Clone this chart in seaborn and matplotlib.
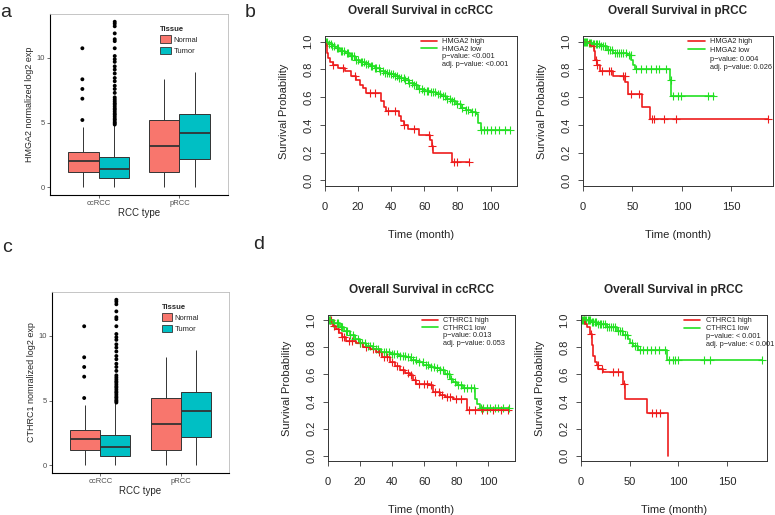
import numpy as np
import pandas as pd
import matplotlib
matplotlib.use('Agg')
import matplotlib.pyplot as plt
from matplotlib.lines import Line2D
from matplotlib.patches import Patch
import seaborn as sns

# ---- box plot data (whisker low, Q1, median, Q3, whisker high) ----
rcc_types = ['ccRCC', 'pRCC']
tissues = ['Normal', 'Tumor']
cc_normal = [0.0, 1.16, 2.04, 2.70, 4.67]
cc_tumor = [0.0, 0.72, 1.42, 2.35, 4.80]
p_normal = [0.0, 1.16, 3.20, 5.20, 8.37]
p_tumor = [0.0, 2.20, 4.16, 5.68, 8.94]
cc_normal_out = [5.2, 6.85, 7.6, 8.35, 10.75]
cc_tumor_out = [4.85, 4.95, 5.05, 5.2, 5.3, 5.45, 5.6, 5.7, 5.85, 6.0, 6.1, 6.25,
                6.4, 6.5, 6.65, 6.8, 6.95, 7.3, 7.6, 7.85, 8.2, 8.45, 8.8, 9.1,
                9.35, 9.7, 9.9, 10.15, 10.75, 11.3, 11.45, 11.9, 12.45, 12.65, 12.8]

# ---- survival curves: step times / survival, censor times ----
hm_cc_hi_t = [0, 1, 2, 3, 5, 8, 12, 16, 19, 21, 23, 25, 34, 35.5, 37, 44.5, 46, 47.5, 50,
              56.5, 63.5, 64.5, 65.5, 76.5, 87]
hm_cc_hi_s = [1.0, 0.92, 0.88, 0.85, 0.83, 0.81, 0.79, 0.755, 0.72, 0.69, 0.665, 0.63, 0.57,
              0.53, 0.50, 0.465, 0.43, 0.40, 0.37, 0.33, 0.29, 0.245, 0.20, 0.133, 0.133]
hm_cc_hi_c = [5, 11, 18, 27, 30, 38, 42, 48, 54, 63, 64.5, 78, 80, 87]
hm_cc_lo_t = [0, 2, 4, 6, 9, 12, 15, 18, 21, 24, 27, 30, 33, 36, 39, 42, 45, 48, 51, 54, 56,
              60, 64, 67, 70, 73, 76, 79, 82, 85, 88, 91, 92.5, 94, 112]
hm_cc_lo_s = [1.0, 0.985, 0.97, 0.955, 0.935, 0.915, 0.895, 0.87, 0.855, 0.84, 0.825, 0.81,
              0.79, 0.775, 0.765, 0.75, 0.735, 0.72, 0.705, 0.685, 0.66, 0.645, 0.64, 0.625,
              0.605, 0.59, 0.57, 0.55, 0.525, 0.505, 0.49, 0.48, 0.41, 0.365, 0.365]
hm_cc_lo_c = [0.5, 1.5, 2.5, 3.5, 4.5, 5.5, 7, 8, 9.5, 10.5, 11.5, 13, 14, 15.5, 16.5, 17.5,
              19, 20, 21.5, 22.5, 23.5, 25, 26, 27.5, 28.5, 30, 31, 32.5, 33.5, 35, 36, 37.5,
              38.5, 40, 41, 42.5, 43.5, 45, 46, 47.5, 48.5, 50, 51, 52.5, 54, 55, 57, 58.5,
              60, 61.5, 62.5, 64, 65.5, 66.5, 68, 69.5, 71, 72.5, 74, 75.5, 77, 78, 80, 81.5,
              83, 85, 86.5, 89, 90.5, 94.5, 96, 98, 100, 103, 105, 109, 112]

hm_p_hi_t = [0, 7.4, 11.4, 12.3, 14, 16.7, 30.8, 42.6, 45, 59.3, 67.6, 186.5]
hm_p_hi_s = [1.0, 0.965, 0.93, 0.87, 0.83, 0.79, 0.75, 0.71, 0.62, 0.53, 0.44, 0.44]
hm_p_hi_c = [11, 13, 14.5, 19, 26, 28, 40, 42, 48, 57, 70, 72, 82, 94, 186.5]
hm_p_lo_t = [0, 5, 10, 17, 24, 30.8, 44, 49, 50.8, 52.4, 87.6, 89.3, 132.8]
hm_p_lo_s = [1.0, 0.99, 0.98, 0.97, 0.94, 0.92, 0.90, 0.87, 0.83, 0.80, 0.72, 0.61, 0.61]
hm_p_lo_c = [1, 2, 3, 4.5, 6, 7, 8.5, 10, 11.5, 13, 14, 16, 18, 20, 22, 25, 27, 29, 32, 34,
             36, 38, 40, 43, 46, 48, 54, 59, 64, 69, 74, 77, 84, 88.5, 91, 96, 99, 126, 131]

ct_cc_hi_t = [0, 3, 5, 7, 8.5, 11.5, 17.7, 21.9, 26, 30, 34, 38.5, 42, 44.8, 48, 51, 53, 55.2,
              63.5, 65.6, 69.8, 73, 78, 86.7, 112.5]
ct_cc_hi_s = [1.0, 0.96, 0.94, 0.91, 0.88, 0.845, 0.83, 0.80, 0.785, 0.765, 0.73, 0.69, 0.66,
              0.63, 0.61, 0.595, 0.56, 0.53, 0.52, 0.47, 0.445, 0.43, 0.415, 0.335, 0.335]
ct_cc_hi_c = [1, 2, 4, 6, 9, 10, 13, 15, 20, 24, 28, 32, 35, 37, 40, 43, 47, 50, 52, 54, 57,
              60, 62, 64, 67, 69, 71, 74, 76, 80, 83, 88, 92, 96, 99, 103, 108, 112.5]
ct_cc_lo_t = [0, 3, 7.3, 10, 13.5, 17, 19.8, 24, 28.1, 33, 38.5, 44, 48.9, 52, 55.2, 59.3,
              63.5, 67, 69.8, 73, 76, 78, 80.2, 84.4, 91.7, 92.7, 94.8, 113]
ct_cc_lo_s = [1.0, 0.98, 0.95, 0.92, 0.89, 0.86, 0.835, 0.81, 0.785, 0.765, 0.753, 0.74,
              0.728, 0.71, 0.69, 0.667, 0.655, 0.645, 0.63, 0.60, 0.568, 0.545, 0.523, 0.50,
              0.42, 0.38, 0.35, 0.35]
ct_cc_lo_c = [0.5, 1.5, 3, 4, 5.5, 6.5, 8, 9, 11, 12, 14, 15.5, 17, 18.5, 20, 21.5, 23, 25,
              26.5, 28, 30, 31.5, 33, 35, 36.5, 38, 40, 41.5, 43, 45, 46.5, 48, 50, 51.5, 53,
              55, 57, 59, 61, 62.5, 64, 66, 68, 70, 72, 74, 75.5, 77, 79, 81, 83, 85, 87, 89,
              91, 95.5, 97, 99, 101, 104, 106, 109, 113]

ct_p_hi_t = [0, 4, 5.8, 9.2, 11, 12.7, 14.4, 16.1, 17.8, 22.9, 43.5, 45.5, 67.5, 89.8]
ct_p_hi_s = [1.0, 0.975, 0.95, 0.90, 0.815, 0.74, 0.69, 0.667, 0.64, 0.615, 0.53, 0.42,
             0.316, 0.0]
ct_p_hi_c = [3, 10, 17, 22, 33, 38, 44.5, 73, 77, 81]
ct_p_lo_t = [0, 10, 16.1, 26.4, 36.7, 43.5, 48.7, 50.4, 53.8, 59, 88, 185.8]
ct_p_lo_s = [1.0, 0.99, 0.975, 0.95, 0.92, 0.89, 0.864, 0.835, 0.81, 0.78, 0.71, 0.71]
ct_p_lo_c = [1, 2, 3, 4, 5.5, 7, 8, 9.5, 11, 12.5, 14, 15, 17, 19, 21, 23, 25, 27, 29, 31,
             33, 35, 38, 40, 42, 45, 47, 52, 55, 57, 61, 64, 68, 72, 76, 80, 86, 90, 94, 97,
             100, 126, 132, 185.8]

RED = '#EE1C1C'
GREEN = '#22E022'
FILLS = {'Normal': '#F8766D', 'Tumor': '#00BFC4'}

sns.set_style('white')
plt.rcParams['font.family'] = ['Liberation Sans', 'DejaVu Sans']

W, H = 775, 515
fig = plt.figure(figsize=(W / 100, H / 100), dpi=100)


def px_axes(l, t, r, b):
    return fig.add_axes([l / W, 1 - b / H, (r - l) / W, (b - t) / H])


def box_panel(ax, ylabel):
    rows = []
    for typ, tis, vals in [('ccRCC', 'Normal', cc_normal), ('ccRCC', 'Tumor', cc_tumor),
                           ('pRCC', 'Normal', p_normal), ('pRCC', 'Tumor', p_tumor)]:
        for v in vals:
            rows.append((typ, tis, v))
    df = pd.DataFrame(rows, columns=['type', 'tissue', 'value'])
    sns.boxplot(data=df, x='type', y='value', hue='tissue', order=rcc_types,
                hue_order=tissues, palette=FILLS, saturation=1, whis=(0, 100), width=0.75,
                linecolor='#333333', linewidth=0.7, showcaps=False,
                medianprops={'linewidth': 1.3}, legend=False, ax=ax)
    out = [('ccRCC', 'Normal', v) for v in cc_normal_out] + \
          [('ccRCC', 'Tumor', v) for v in cc_tumor_out]
    odf = pd.DataFrame(out, columns=['type', 'tissue', 'value'])
    sns.stripplot(data=odf, x='type', y='value', hue='tissue', order=rcc_types,
                  hue_order=tissues, dodge=True, jitter=False,
                  palette={'Normal': 'black', 'Tumor': 'black'}, size=2.8,
                  legend=False, ax=ax)
    ax.set_xlim(-0.6, 1.6)
    ax.set_ylim(-0.6, 13.4)
    ax.set_yticks([0, 5, 10])
    ax.set_xlabel('RCC type', fontsize=7, labelpad=1)
    ax.set_ylabel(ylabel, fontsize=6.5, labelpad=2)
    ax.tick_params(labelsize=5.5, labelcolor='#4D4D4D', length=2, width=0.5,
                   color='#333333', pad=1.5, left=True, bottom=True)
    for side in ['top', 'right']:
        ax.spines[side].set_color('#BBBBBB')
        ax.spines[side].set_linewidth(0.6)
    for side in ['left', 'bottom']:
        ax.spines[side].set_color('black')
        ax.spines[side].set_linewidth(0.8)
    handles = [Patch(facecolor=FILLS[t], edgecolor='#333333', linewidth=0.6) for t in tissues]
    leg = ax.legend(handles, tissues, title='Tissue', loc='upper left',
                    bbox_to_anchor=(0.62, 0.935), frameon=False, fontsize=5.5,
                    title_fontsize=5.5, handlelength=1.4, handleheight=1.2,
                    handletextpad=0.3, labelspacing=0.35, alignment='left',
                    borderaxespad=0, borderpad=0)
    leg.get_title().set_fontweight('bold')


def km_panel(ax, title, curves, labels, xmax, xticks, leg_x, spacing):
    for t, s, c, col in curves:
        sns.lineplot(x=t, y=s, drawstyle='steps-post', color=col, linewidth=1.2,
                     estimator=None, sort=False, ax=ax)
        t_arr, s_arr = np.array(t), np.array(s)
        cs = s_arr[np.searchsorted(t_arr, c, side='right') - 1]
        sns.scatterplot(x=c, y=cs, marker='+', color=col, s=26, linewidth=0.8, ax=ax)
    ax.set_xlim(0, xmax)
    ax.set_ylim(-0.04, 1.04)
    ax.set_xticks(xticks)
    ax.set_yticks([0, 0.2, 0.4, 0.6, 0.8, 1.0])
    ax.set_yticklabels(['0.0', '0.2', '0.4', '0.6', '0.8', '1.0'], rotation=90, va='center')
    ax.tick_params(labelsize=8, length=3.5, width=0.6, color='#333333', left=True,
                   bottom=True)
    ax.tick_params(axis='x', pad=8)
    ax.tick_params(axis='y', pad=5)
    for side in ax.spines.values():
        side.set_color('#333333')
        side.set_linewidth(0.7)
    ax.set_title(title, fontsize=8.5, fontweight='bold', pad=16)
    ax.set_xlabel('Time (month)', fontsize=8, labelpad=13)
    ax.set_ylabel('Survival Probability', fontsize=8, labelpad=10)
    handles = [Line2D([], [], color=RED, lw=1.2), Line2D([], [], color=GREEN, lw=1.2),
               Line2D([], [], lw=0), Line2D([], [], lw=0)]
    ax.legend(handles, labels, loc='upper left', bbox_to_anchor=(leg_x, 0.985),
              frameon=False, fontsize=5.3, handlelength=2.2, handletextpad=0.7,
              labelspacing=spacing, borderaxespad=0, borderpad=0)


ax_a = px_axes(50, 14, 228, 195)
box_panel(ax_a, 'HMGA2 normalized log2 exp')
ax_c = px_axes(52, 292, 229, 473)
box_panel(ax_c, 'CTHRC1 nomralized log2 exp')

ax_b1 = px_axes(325, 36, 517, 186)
km_panel(ax_b1, 'Overall Survival in ccRCC',
         [(hm_cc_hi_t, hm_cc_hi_s, hm_cc_hi_c, RED), (hm_cc_lo_t, hm_cc_lo_s, hm_cc_lo_c, GREEN)],
         ['HMGA2 high', 'HMGA2 low', 'p\u2212value: <0.001', 'adj. p\u2212value: <0.001'],
         116, [0, 20, 40, 60, 80, 100], 0.5, 0.05)
ax_b2 = px_axes(583, 36, 773, 186)
km_panel(ax_b2, 'Overall Survival in pRCC',
         [(hm_p_hi_t, hm_p_hi_s, hm_p_hi_c, RED), (hm_p_lo_t, hm_p_lo_s, hm_p_lo_c, GREEN)],
         ['HMGA2 high', 'HMGA2 low', 'p\u2212value: 0.004', 'adj. p\u2212value: 0.026'],
         192, [0, 50, 100, 150], 0.555, 0.2)
ax_d1 = px_axes(328, 315, 515, 461)
km_panel(ax_d1, 'Overall Survival in ccRCC',
         [(ct_cc_hi_t, ct_cc_hi_s, ct_cc_hi_c, RED), (ct_cc_lo_t, ct_cc_lo_s, ct_cc_lo_c, GREEN)],
         ['CTHRC1 high', 'CTHRC1 low', 'p\u2212value: 0.013', 'adj. p\u2212value: 0.053'],
         116.7, [0, 20, 40, 60, 80, 100], 0.5, 0.05)
ax_d2 = px_axes(581, 315, 767, 461)
km_panel(ax_d2, 'Overall Survival in pRCC',
         [(ct_p_hi_t, ct_p_hi_s, ct_p_hi_c, RED), (ct_p_lo_t, ct_p_lo_s, ct_p_lo_c, GREEN)],
         ['CTHRC1 high', 'CTHRC1 low', 'p\u2212value: < 0.001', 'adj. p\u2212value: < 0.001'],
         191, [0, 50, 100, 150], 0.555, 0.1)

for lab, x, y in [('a', 0, 17), ('b', 245, 17), ('c', 2, 252), ('d', 253, 249)]:
    fig.text(x / W, 1 - y / H, lab, fontsize=14, ha='left', va='baseline')

fig.savefig('out.png', dpi=100)
